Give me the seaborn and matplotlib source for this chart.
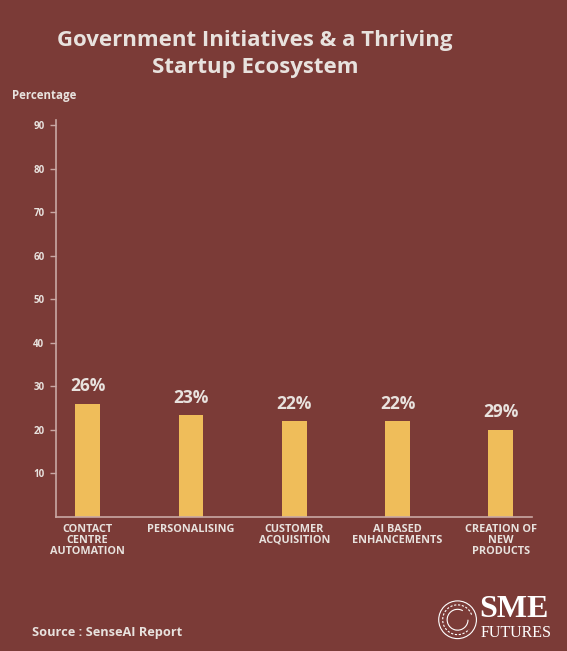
import matplotlib
matplotlib.use("Agg")
import matplotlib.pyplot as plt
import seaborn as sns
import pandas as pd
from matplotlib.patches import Circle, Arc

categories = ["CONTACT\nCENTRE\nAUTOMATION", "PERSONALISING", "CUSTOMER\nACQUISITION",
              "AI BASED\nENHANCEMENTS", "CREATION OF\nNEW\nPRODUCTS"]
values = [26, 23.3, 22, 22, 20]
bar_labels = ["26%", "23%", "22%", "22%", "29%"]
yticks = [10, 20, 30, 40, 50, 60, 70, 80, 90]

BG = "#7B3B37"
BAR = "#EFBD5A"
TXT = "#E8E2DE"
AX = "#C9A8A4"

sns.set_theme(style="white")
plt.rcParams["font.family"] = ["Open Sans", "DejaVu Sans"]

fig = plt.figure(figsize=(5.67, 6.51), dpi=100, facecolor=BG)
ax = fig.add_axes([0.098, 0.206, 0.840, 0.610], facecolor=BG)

df = pd.DataFrame({"cat": categories, "val": values})
sns.barplot(data=df, x="cat", y="val", color=BAR, width=0.24, saturation=1,
            linewidth=0, edgecolor=BAR, ax=ax)

ax.set_xlim(-0.31, 4.3)
ax.set_ylim(0, 91.2)
ax.set_yticks(yticks)
ax.set_yticklabels([str(t) for t in yticks], fontsize=7, color=TXT, fontweight="bold")
ax.set_xlabel("")
ax.set_ylabel("")
ax.tick_params(axis="y", length=4, width=1, color=AX, pad=4, left=True)
ax.tick_params(axis="x", length=0, pad=5)
for lab in ax.get_xticklabels():
    lab.set_fontsize(7.8)
    lab.set_fontweight("bold")
    lab.set_color(TXT)
    lab.set_linespacing(1.0)
    lab.set_verticalalignment("top")

for s in ["top", "right"]:
    ax.spines[s].set_visible(False)
for s in ["left", "bottom"]:
    ax.spines[s].set_color(AX)
    ax.spines[s].set_linewidth(1.2)

for i, (v, t) in enumerate(zip(values, bar_labels)):
    ax.annotate(t, (i, v), xytext=(0, 6), textcoords="offset points",
                ha="center", va="bottom", fontsize=12.5, fontweight="bold", color=TXT)

fig.text(0.45, 0.917, "Government Initiatives & a Thriving\nStartup Ecosystem",
         ha="center", va="center", fontsize=16, fontweight="bold", color=TXT,
         linespacing=1.4)
fig.text(0.021, 0.853, "Percentage", ha="left", va="center", fontsize=8.3,
         fontweight="bold", color=TXT)
fig.text(0.056, 0.029, "Source : SenseAI Report", ha="left", va="center", fontsize=9.2,
         fontweight="bold", color=TXT)

# logo
fig.text(0.845, 0.064, "SME", ha="left", va="center", fontsize=23, fontweight="bold",
         color="white", family=["Liberation Serif", "DejaVu Serif"])
fig.text(0.847, 0.028, "FUTURES", ha="left", va="center", fontsize=11.5,
         color="white", family=["Liberation Serif", "DejaVu Serif"])
lax = fig.add_axes([0.772, 0.015, 0.07, 0.066], facecolor="none")
lax.set_xlim(-1, 1); lax.set_ylim(-1, 1); lax.set_aspect("equal"); lax.axis("off")
lax.add_patch(Circle((0, 0), 0.95, fill=False, ec="white", lw=0.8))
lax.add_patch(Arc((0, 0), 1.5, 1.5, theta1=20, theta2=320, ec="white", lw=0.8, ls=(0, (2, 1.5))))
lax.add_patch(Arc((0, 0), 1.05, 1.05, theta1=60, theta2=360, ec="white", lw=0.8))

fig.savefig("out.png", dpi=100, facecolor=BG)
